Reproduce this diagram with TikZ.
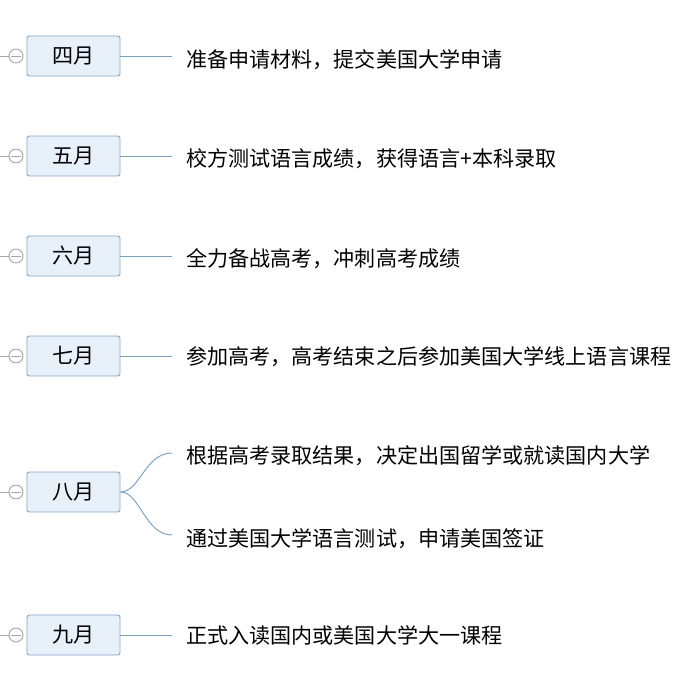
\documentclass[tikz,border=0pt]{standalone}
\usepackage{fontspec}
\newfontfamily\cjk{Noto Sans CJK SC}
\usetikzlibrary{positioning}
\definecolor{boxfill}{RGB}{232,241,250}
\definecolor{boxline}{RGB}{130,165,200}
\definecolor{linkcol}{RGB}{120,160,195}
\tikzset{%
  month/.style = {draw=boxline, fill=boxfill, rounded corners=2pt, thick,
    minimum width=2.79cm, minimum height=1.2cm, font=\cjk\fontsize{18}{20}\selectfont},
  task/.style  = {anchor=west, inner sep=0pt, font=\cjk\fontsize{18}{20}\selectfont},
  knob/.style  = {draw=gray!70, thick, circle, minimum size=0.42cm, inner sep=0pt, fill=white},
  link/.style  = {draw=linkcol, thick}
}
\begin{document}
\begin{tikzpicture}[x=0.03cm, y=-0.03cm]
  \useasboundingbox (0,0) rectangle (698,683);
  % months
  \foreach \name/\lab/\yy in {apr/四月/56, may/五月/156, jun/六月/256, jul/七月/356, aug/八月/492, sep/九月/635}{
    \coordinate (l\name) at (0,\yy);
    \node[month] (\name) at (73.5,\yy) {\lab};
    \draw[gray!70, thick] (l\name) -- (9,\yy);
    \node[knob] (k\name) at (16,\yy) {};
    \draw[gray!70, thick] ([xshift=2.5pt]k\name.west) -- ([xshift=-2.5pt]k\name.east);
  }
  % tasks
  \node[task] (tapr) at (186,60) {准备申请材料，提交美国大学申请};
  \node[task] (tmay) at (186,159) {校方测试语言成绩，获得语言+本科录取};
  \node[task] (tjun) at (186,259) {全力备战高考，冲刺高考成绩};
  \node[task] (tjul) at (186,357) {参加高考，高考结束之后参加美国大学线上语言课程};
  \node[task] (taug1) at (186,456) {根据高考录取结果，决定出国留学或就读国内大学};
  \node[task] (taug2) at (186,539) {通过美国大学语言测试，申请美国签证};
  \node[task] (tsep) at (186,635) {正式入读国内或美国大学大一课程};
  % connectors
  \foreach \name in {apr,may,jun,jul,sep}
    \draw[link] (\name.east) -- ++(52,0);
  \coordinate (e1) at (172,453);
  \coordinate (e2) at (172,535);
  \draw[link] (aug.east) .. controls (140,492) and (145,453) .. (e1);
  \draw[link] (aug.east) .. controls (140,492) and (145,535) .. (e2);
\end{tikzpicture}
\end{document}
